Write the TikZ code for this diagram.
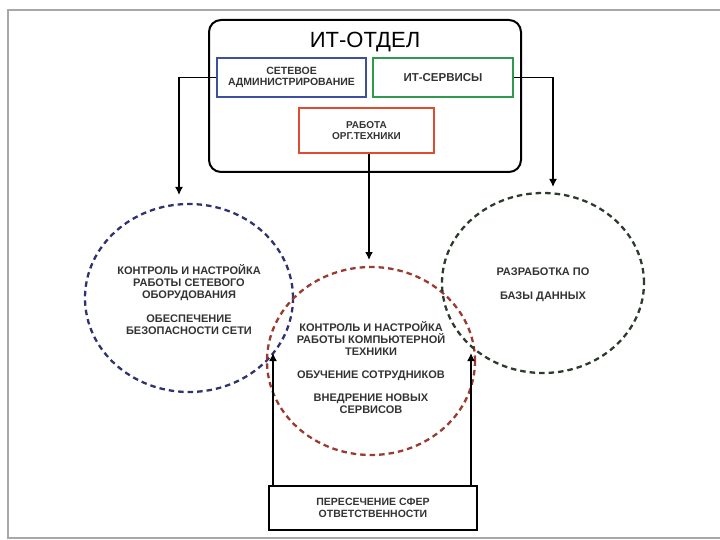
\documentclass[tikz,border=0pt]{standalone}
\usepackage{fontspec}
\setmainfont{Liberation Sans}
\usetikzlibrary{shapes.geometric,arrows.meta}
\definecolor{frameg}{HTML}{A8A8A8}
\definecolor{txt}{HTML}{333333}
\definecolor{boxblue}{HTML}{3E4FA0}
\definecolor{boxgreen}{HTML}{2F9A4E}
\definecolor{boxred}{HTML}{E04B2F}
\definecolor{cblue}{HTML}{2F3370}
\definecolor{cred}{HTML}{9A3B30}
\definecolor{cgreen}{HTML}{2D3B2D}
\tikzset{
  subbox/.style={draw, line width=2pt, rectangle, inner sep=0pt, align=center, text=txt,
    font=\bfseries\fontsize{10.5}{11}\selectfont},
  zone/.style={ellipse, draw, line width=2.3pt, dash pattern=on 5.5pt off 4pt, inner sep=0pt},
  ztext/.style={align=center, text=txt, font=\bfseries\fontsize{11}{12}\selectfont, inner sep=0pt},
  conn/.style={line width=1.5pt, -{Latex[length=8pt,width=8pt]}},
}
\begin{document}
\begin{tikzpicture}[x=1pt,y=-1pt]
\useasboundingbox (0,0) rectangle (720,540);
% outer frame
\draw[frameg, line width=2pt] (720,10) -- (8,10) -- (8,538) -- (720,538);

% main box
\node[draw, line width=2pt, rounded corners=12pt, minimum width=312pt, minimum height=152pt, inner sep=0pt] (it) at (365,96) {};
\node[font=\fontsize{22}{24}\selectfont, text=black, inner sep=0pt] (title) at (365,42) {ИТ-ОТДЕЛ};

\node[subbox, draw=boxblue, minimum width=149pt, minimum height=39pt] (sa) at (291.5,77.5) {СЕТЕВОЕ\\АДМИНИСТРИРОВАНИЕ};
\node[subbox, draw=boxgreen, minimum width=140pt, minimum height=39pt, font=\bfseries\fontsize{11.5}{12}\selectfont] (its) at (443,77.5) {ИТ-СЕРВИСЫ};
\node[subbox, draw=boxred, minimum width=135pt, minimum height=45pt, font=\bfseries\fontsize{10}{11}\selectfont] (org) at (366.5,130.5) {РАБОТА\\ОРГ.ТЕХНИКИ};

% zones
\node[zone, draw=cblue, minimum width=208pt, minimum height=188pt] (c1) at (189,298) {};
\node[zone, draw=cred, minimum width=208pt, minimum height=188pt] (c2) at (371,361) {};
\node[zone, draw=cgreen, minimum width=202pt, minimum height=180pt] (c3) at (543,283) {};

\node[ztext] (t1) at (189,300) {КОНТРОЛЬ И НАСТРОЙКА\\РАБОТЫ СЕТЕВОГО\\ОБОРУДОВАНИЯ\\[12pt]ОБЕСПЕЧЕНИЕ\\БЕЗОПАСНОСТИ СЕТИ};
\node[ztext] (t2) at (371,368) {КОНТРОЛЬ И НАСТРОЙКА\\РАБОТЫ КОМПЬЮТЕРНОЙ\\ТЕХНИКИ\\[11pt]ОБУЧЕНИЕ СОТРУДНИКОВ\\[11pt]ВНЕДРЕНИЕ НОВЫХ\\СЕРВИСОВ};
\node[ztext] (t3) at (543,285) {РАЗРАБОТКА ПО\\[12pt]БАЗЫ ДАННЫХ};

% bottom box
\node[draw, line width=2pt, rectangle, minimum width=208pt, minimum height=44pt, inner sep=0pt, align=center, text=txt,
  font=\bfseries\fontsize{10.5}{11.5}\selectfont] (bb) at (373,508) {ПЕРЕСЕЧЕНИЕ СФЕР\\ОТВЕТСТВЕННОСТИ};

% connectors
\coordinate (a1) at (179,195);
\coordinate (a2) at (553,187);
\coordinate (a3) at (369,260);
\coordinate (u1) at (273,353);
\coordinate (u2) at (471,353);
\draw[conn] (sa.west) -| (a1);
\draw[conn] (its.east) -| (a2);
\draw[conn] (org.south -| a3) -- (a3);
\draw[conn] (bb.north -| u1) -- (u1);
\draw[conn] (bb.north -| u2) -- (u2);
\end{tikzpicture}
\end{document}
